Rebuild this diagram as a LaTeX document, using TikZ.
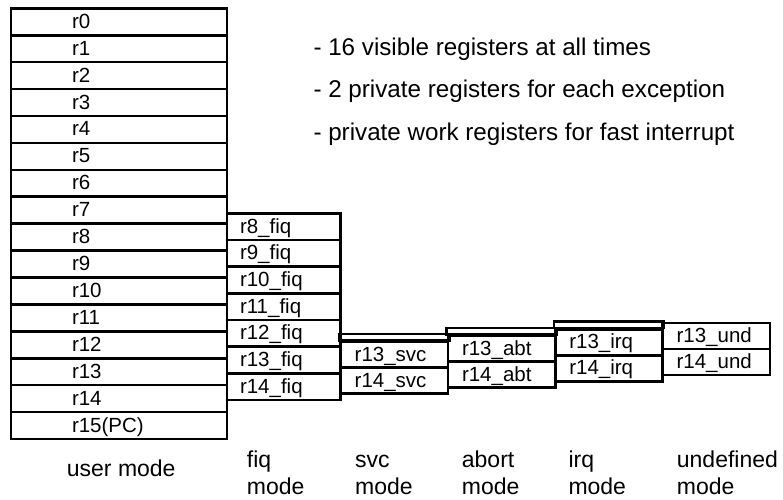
\documentclass[tikz,border=0pt]{standalone}
\usepackage{fontspec}
\setmainfont{Liberation Sans}
\begin{document}
\begin{tikzpicture}[x=1pt,y=-1pt,
  reg/.style={draw, line width=2.6pt, rectangle, inner ysep=0pt, text height=13pt, text depth=0pt, align=left, font=\fontsize{20.5}{24}\selectfont},
  ucol/.style={reg, inner xsep=61pt, text width=94pt, minimum height=26.92pt},
  fcol/.style={reg, inner xsep=13pt, text width=87.7pt, minimum height=26.67pt},
  xcol/.style={reg, inner xsep=14pt, text width=79.3pt, minimum height=26pt},
  strip/.style={draw, line width=2.6pt},
  note/.style={anchor=base west, inner sep=0pt, font=\fontsize{24.2}{28}\selectfont},
  mlabel/.style={anchor=base west, inner sep=0pt, font=\fontsize{23}{27}\selectfont}
]
\useasboundingbox (0,0) rectangle (783,499);

% user mode registers
\foreach \i/\t in {0/r0,1/r1,2/r2,3/r3,4/r4,5/r5,6/r6,7/r7,8/r8,9/r9,10/r10,11/r11,12/r12,13/r13,14/r14,15/r15(PC)}
  \node[ucol] (u\i) at (119,{8.3+26.92*(\i+0.5)}) {\t};

% fiq registers
\foreach \i in {8,...,14}
  \node[fcol] (f\i) at (283.85,{213.3+26.67*(\i-8+0.5)}) {r\i\_fiq};

% svc
\node[xcol] (s13) at (394.35,354.7) {r13\_svc};
\node[xcol] (s14) at (394.35,380.7) {r14\_svc};
% abort
\node[xcol] (a13) at (501.65,348.5) {r13\_abt};
\node[xcol] (a14) at (501.65,374.5) {r14\_abt};
% irq
\node[xcol] (i13) at (608.95,342.3) {r13\_irq};
\node[xcol] (i14) at (608.95,368.3) {r14\_irq};
% undefined
\node[xcol] (d13) at (716.25,336.1) {r13\_und};
\node[xcol] (d14) at (716.25,362.1) {r14\_und};

% staircase strips
\draw[strip] ([yshift=6.4pt]s13.north west) rectangle (s13.north east);
\draw[strip] ([yshift=6.4pt]a13.north west) rectangle (a13.north east);
\draw[strip] ([yshift=6.4pt]i13.north west) rectangle (i13.north east);

% notes
\node[note] (n1) at (313.3,55) {- 16 visible registers at all times};
\node[note] (n2) at (313.3,97.7) {- 2 private registers for each exception};
\node[note] (n3) at (313.3,140) {- private work registers for fast interrupt};

% mode labels
\node[mlabel] (lu) at (66.7,476) {user mode};
\node[mlabel] (lf1) at (246.7,467.5) {fiq};
\node[mlabel] (lf2) at (246.7,494) {mode};
\node[mlabel] (ls1) at (355,467.5) {svc};
\node[mlabel] (ls2) at (355,494) {mode};
\node[mlabel] (la1) at (461.7,467.5) {abort};
\node[mlabel] (la2) at (461.7,494) {mode};
\node[mlabel] (li1) at (568.3,467.5) {irq};
\node[mlabel] (li2) at (568.3,494) {mode};
\node[mlabel] (ld1) at (676.7,467.5) {undefined};
\node[mlabel] (ld2) at (676.7,494) {mode};
\end{tikzpicture}
\end{document}
